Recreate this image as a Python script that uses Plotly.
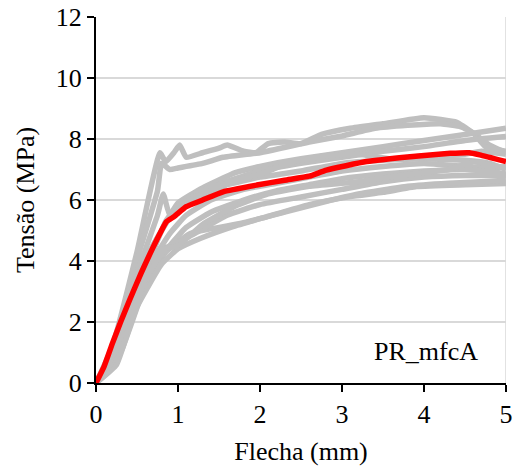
import plotly.graph_objects as go

# Individual specimen curves: deflection (mm) vs stress (MPa)
c1_x = [0, 0.2, 0.5, 0.78, 0.85, 0.95, 1.02, 1.1, 1.3, 1.5, 1.6, 1.8, 1.95, 2.1, 2.3, 2.5, 2.75, 3.1, 3.5, 4.0, 4.4, 4.65, 4.8, 5.0]
c1_y = [0, 1.2, 4.3, 7.55, 7.25, 7.55, 7.8, 7.4, 7.55, 7.7, 7.8, 7.6, 7.55, 7.85, 7.9, 7.85, 8.15, 8.35, 8.5, 8.7, 8.55, 8.1, 7.8, 7.55]
c2_x = [0, 0.15, 0.45, 0.75, 0.8, 0.9, 1.0, 1.3, 1.55, 2.0, 2.6, 3.0, 3.4, 3.8, 4.2, 4.45, 4.6, 4.75, 5.0]
c2_y = [0, 0.6, 3.6, 6.3, 7.2, 7.0, 7.05, 7.2, 7.4, 7.55, 7.9, 8.1, 8.35, 8.45, 8.5, 8.4, 8.2, 7.75, 7.6]
c3_x = [0, 0.2, 0.5, 0.8, 1.0, 1.3, 1.7, 2.0, 2.5, 3.0, 3.5, 4.0, 4.5, 5.0]
c3_y = [0, 0.7, 3.2, 5.0, 5.9, 6.4, 6.9, 7.1, 7.35, 7.55, 7.75, 7.95, 8.15, 8.35]
c4_x = [0, 0.25, 0.55, 0.85, 1.0, 1.3, 1.7, 2.0, 2.5, 3.0, 3.5, 4.0, 4.5, 5.0]
c4_y = [0, 0.8, 3.3, 5.3, 5.8, 6.3, 6.7, 6.95, 7.2, 7.4, 7.6, 7.75, 7.95, 8.08]
c5_x = [0, 0.2, 0.5, 0.75, 0.82, 0.9, 1.0, 1.3, 1.6, 2.0, 2.5, 3.0, 3.5, 4.0, 4.5, 4.8, 5.0]
c5_y = [0, 1.0, 3.6, 5.5, 6.2, 5.5, 5.7, 6.1, 6.5, 6.75, 6.95, 7.2, 7.3, 7.35, 7.3, 7.2, 7.0]
c6_x = [0, 0.3, 0.6, 0.9, 1.1, 1.4, 1.8, 2.2, 2.6, 3.0, 3.5, 4.0, 4.5, 4.8, 5.0]
c6_y = [0, 1.2, 3.6, 4.9, 5.5, 6.0, 6.35, 6.55, 6.75, 6.95, 7.1, 7.2, 7.1, 7.05, 7.1]
c7_x = [0, 0.3, 0.6, 0.9, 1.1, 1.4, 1.8, 2.2, 2.6, 3.0, 3.5, 4.0, 4.5, 4.9, 5.0]
c7_y = [0, 1.0, 3.2, 4.5, 5.1, 5.6, 6.0, 6.3, 6.5, 6.7, 6.85, 6.95, 7.0, 6.9, 6.85]
c8_x = [0, 0.2, 0.5, 0.8, 1.0, 1.27, 1.67, 2.08, 2.6, 3.1, 3.5, 3.91, 4.5, 5.0]
c8_y = [0, 0.5, 2.5, 3.9, 4.4, 4.74, 5.13, 5.45, 5.85, 6.11, 6.25, 6.44, 6.5, 6.54]
c9_x = [0, 0.25, 0.5, 0.74, 1.15, 1.76, 2.3, 2.8, 3.2, 3.8, 4.3, 4.7, 5.0]
c9_y = [0, 0.6, 2.6, 4.03, 4.9, 5.23, 5.6, 5.95, 6.2, 6.45, 6.55, 6.6, 6.65]
c10_x = [0, 0.2, 0.5, 0.75, 1.0, 1.2, 1.6, 2.0, 2.5, 3.0, 3.5, 4.0, 4.5, 5.0]
c10_y = [0, 0.9, 3.0, 4.3, 4.6, 4.9, 5.5, 5.85, 6.1, 6.35, 6.6, 6.75, 6.8, 6.8]
c11_x = [0, 0.3, 0.6, 0.85, 1.0, 1.3, 1.7, 2.1, 2.6, 3.2, 3.7, 4.3, 4.6, 4.8, 5.0]
c11_y = [0, 1.1, 3.4, 4.4, 4.5, 5.2, 5.8, 6.2, 6.45, 6.6, 6.8, 7.0, 7.25, 7.15, 7.05]
c12_x = [0, 0.25, 0.55, 0.8, 1.0, 1.3, 1.6, 2.0, 2.4, 2.8, 3.2, 3.6, 4.0, 4.5, 4.7, 5.0]
c12_y = [0, 1.1, 3.8, 5.0, 5.8, 6.2, 6.55, 6.85, 7.25, 7.45, 7.5, 7.35, 7.45, 7.5, 7.6, 7.5]

# Mean curve
mean_x = [0, 0.1, 0.2, 0.3, 0.41, 0.55, 0.74, 0.86, 0.95, 1.1, 1.3, 1.55, 1.96, 2.3, 2.6, 2.81, 3.3, 3.83, 4.32, 4.55, 4.68, 5.0]
mean_y = [0, 0.55, 1.3, 2.0, 2.72, 3.6, 4.69, 5.29, 5.45, 5.78, 6.0, 6.27, 6.49, 6.65, 6.78, 6.98, 7.26, 7.42, 7.53, 7.55, 7.48, 7.26]

x_ticks = [0, 1, 2, 3, 4, 5]
y_ticks = [0, 2, 4, 6, 8, 10, 12]

specimens = [
    (c1_x, c1_y), (c2_x, c2_y), (c3_x, c3_y), (c4_x, c4_y),
    (c5_x, c5_y), (c6_x, c6_y), (c7_x, c7_y), (c8_x, c8_y),
    (c9_x, c9_y), (c10_x, c10_y), (c11_x, c11_y), (c12_x, c12_y),
]

FONT = "Liberation Serif"

fig = go.Figure()
for sx, sy in specimens:
    fig.add_trace(go.Scatter(x=sx, y=sy, mode="lines",
                             line=dict(color="#BFBFBF", width=5.5, shape="spline", smoothing=0.4),
                             showlegend=False, hoverinfo="skip"))
fig.add_trace(go.Scatter(x=mean_x, y=mean_y, mode="lines",
                         line=dict(color="#FF0000", width=5.5, shape="spline", smoothing=0.4),
                         showlegend=False))

# right-hand boundary line at x = 5
fig.add_shape(type="line", x0=5, x1=5, y0=0, y1=12, xref="x", yref="y",
              line=dict(color="#D9D9D9", width=1.5), layer="below")

fig.add_annotation(x=4.02, y=1.03, xref="x", yref="y", text="PR_mfcA",
                   showarrow=False, font=dict(family=FONT, size=26, color="black"))

fig.update_layout(
    width=516, height=476,
    margin=dict(l=96, r=10, t=17, b=93),
    paper_bgcolor="white", plot_bgcolor="white",
    font=dict(family=FONT, size=26, color="black"),
)
fig.update_xaxes(
    range=[0, 5], tickvals=x_ticks, showgrid=False, zeroline=False, automargin=False,
    showline=True, linecolor="black", linewidth=2,
    ticks="outside", ticklen=7, tickwidth=2, tickcolor="black",
    title=dict(text="Flecha (mm)", standoff=14, font=dict(family=FONT, size=26)),
    tickfont=dict(family=FONT, size=26),
)
fig.update_yaxes(
    range=[0, 12], tickvals=y_ticks, showgrid=True, gridcolor="#D9D9D9", gridwidth=1.5,
    zeroline=False, automargin=False, showline=True, linecolor="black", linewidth=2,
    ticks="outside", ticklen=7, tickwidth=2, tickcolor="black",
    title=dict(text="Tensão (MPa)", standoff=14, font=dict(family=FONT, size=26)),
    tickfont=dict(family=FONT, size=26),
)

fig.write_html("out.html")
